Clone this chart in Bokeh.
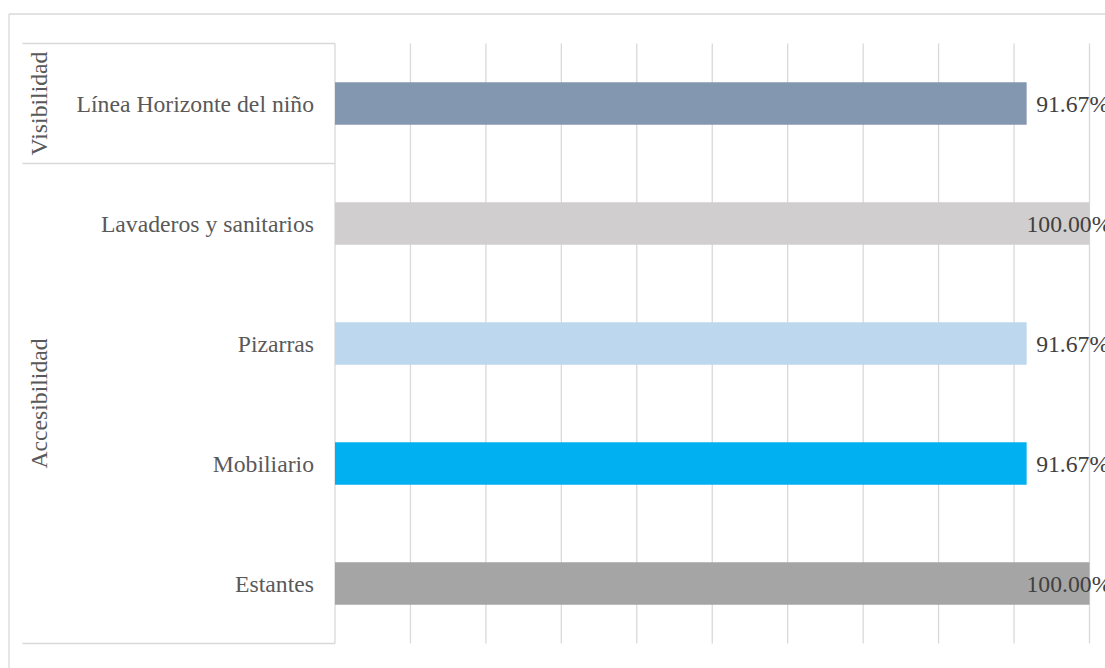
from bokeh.plotting import figure
from bokeh.models import Range1d, ColumnDataSource
from bokeh.embed import file_html
from bokeh.resources import INLINE
from bokeh.core.properties import value
import math

# ---- data (bottom to top) ----
categories = ["Estantes", "Mobiliario", "Pizarras", "Lavaderos y sanitarios", "Línea Horizonte del niño"]
groups = ["Accesibilidad", "Accesibilidad", "Accesibilidad", "Accesibilidad", "Visibilidad"]
values = [1.0000, 0.9167, 0.9167, 1.0000, 0.9167]
colors = ["#A5A5A5", "#00B0F0", "#BDD7EE", "#D0CECE", "#8497B0"]
x_ticks = [0.0, 0.1, 0.2, 0.3, 0.4, 0.5, 0.6, 0.7, 0.8, 0.9, 1.0]

# ---- layout constants (pixels) ----
W, H = 1105, 668
X0, PX = 334.5, 754.5       # pixel of value 0, pixels per unit
Y0, PY = 643.0, 120.0       # pixel of bottom of plot area, pixels per category
n = len(categories)

def xv(px):
    return (px - X0) / PX

def yv(py):
    return (Y0 - py) / PY

p = figure(width=W, height=H, output_backend="svg", toolbar_location=None,
           x_range=Range1d(xv(0), xv(W)), y_range=Range1d(yv(H), yv(0)),
           min_border=0, min_border_left=0, min_border_right=0,
           min_border_top=0, min_border_bottom=0)
p.axis.visible = False
p.grid.visible = False
p.outline_line_color = None
p.background_fill_color = "white"
p.border_fill_color = "white"

GRID = "#D9D9D9"
FONT = value("Liberation Serif")

# gridlines from ticks
p.segment(x0=x_ticks, x1=x_ticks, y0=[0] * len(x_ticks), y1=[n] * len(x_ticks),
          line_color=GRID, line_width=1.3)

# outer chart border
p.segment(x0=[xv(8.5), xv(8.5)], x1=[xv(8.5), xv(W + 5)],
          y0=[yv(13.5), yv(13.5)], y1=[yv(H + 5), yv(13.5)],
          line_color=GRID, line_width=1.3)

# category-axis separators (group boundaries)
bounds = [0]
for i in range(1, n):
    if groups[i] != groups[i - 1]:
        bounds.append(i)
bounds.append(n)
p.segment(x0=[xv(22)] * len(bounds), x1=[0] * len(bounds),
          y0=bounds, y1=bounds, line_color=GRID, line_width=1.3)

ys = [i + 0.5 for i in range(n)]
src = ColumnDataSource(dict(
    y=ys, v=values, c=colors, cat=categories,
    lab=[f"{v * 100:.2f}%" for v in values],
    off=[-63 if v >= 1 else 9.5 for v in values],
))

p.hbar(y="y", left=0, right="v", height=0.355, fill_color="c", line_color=None, source=src)

# category labels
p.text(x=0, y="y", text="cat", source=src, x_offset=-21, text_align="right",
       text_baseline="middle", text_font=FONT, text_font_size="23.7px", text_color="#595959")

# data labels
p.text(x="v", y="y", text="lab", source=src, x_offset="off", text_align="left",
       text_baseline="middle", text_font=FONT, text_font_size="23.7px", text_color="#404040")

# group labels (rotated)
gnames, gcent = [], []
for a, b in zip(bounds[:-1], bounds[1:]):
    gnames.append(groups[a])
    gcent.append((a + b) / 2)
p.text(x=[0] * len(gnames), y=gcent, text=gnames, x_offset=-296.5, angle=math.pi / 2,
       text_align="center", text_baseline="middle", text_font=FONT,
       text_font_size="23.7px", text_color="#595959")

open("out.html", "w").write(file_html(p, INLINE))
